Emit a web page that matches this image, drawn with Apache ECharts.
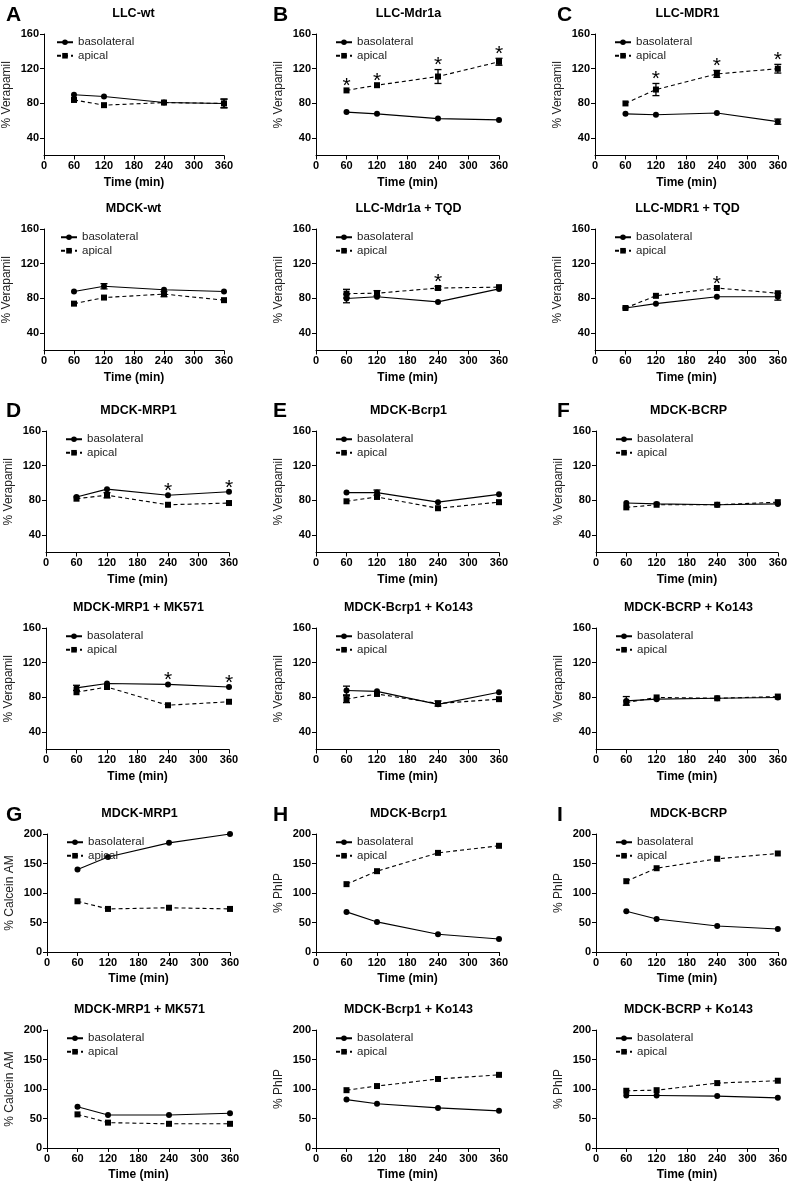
<!DOCTYPE html>
<html>
<head>
<meta charset="utf-8">
<script src="https://cdn.jsdelivr.net/npm/echarts@6/dist/echarts.min.js"></script>
<style>
html,body{margin:0;padding:0;background:#fff;}
#c{width:790px;height:1192px;}
</style>
</head>
<body>
<div id="c"></div>
<script>
// ---------- DATA ----------
const times = [60, 120, 240, 360];
const xTicks = [0, 60, 120, 180, 240, 300, 360];
const panelLetters = ['A', 'B', 'C', 'D', 'E', 'F', 'G', 'H', 'I'];
const panelTitles = [
  'LLC-wt', 'LLC-Mdr1a', 'LLC-MDR1',
  'MDCK-wt', 'LLC-Mdr1a + TQD', 'LLC-MDR1 + TQD',
  'MDCK-MRP1', 'MDCK-Bcrp1', 'MDCK-BCRP',
  'MDCK-MRP1 + MK571', 'MDCK-Bcrp1 + Ko143', 'MDCK-BCRP + Ko143',
  'MDCK-MRP1', 'MDCK-Bcrp1', 'MDCK-BCRP',
  'MDCK-MRP1 + MK571', 'MDCK-Bcrp1 + Ko143', 'MDCK-BCRP + Ko143'
];
const yTitles = [
  '% Verapamil', '% Verapamil', '% Verapamil',
  '% Verapamil', '% Verapamil', '% Verapamil',
  '% Verapamil', '% Verapamil', '% Verapamil',
  '% Verapamil', '% Verapamil', '% Verapamil',
  '% Calcein AM', '% PhIP', '% PhIP',
  '% Calcein AM', '% PhIP', '% PhIP'
];
const verapamilTicks = [40, 80, 120, 160];
const percentTicks = [0, 50, 100, 150, 200];

const basolateral = [
  [90, 88, 81, 80], [70, 68, 62.5, 61], [68, 67, 69, 59],
  [88, 94, 90, 88], [80, 82, 76, 91], [69, 74, 82, 82],
  [84, 93, 86, 90], [89, 89, 78, 87], [77, 76, 75, 76],
  [91, 96, 95, 92], [88, 87, 72, 86], [76, 78, 79, 80],
  [140, 161, 185, 200], [68, 51, 30, 22], [69, 56, 44, 39],
  [70, 56, 56, 59], [82, 75, 68, 63], [89, 89, 88, 85]
];
const basolateralErr = [
  [0, 0, 0, 5], [0, 0, 0, 0], [0, 0, 0, 3],
  [0, 3, 0, 0], [5, 0, 0, 0], [0, 0, 0, 4],
  [0, 0, 0, 0], [0, 3, 0, 0], [0, 0, 0, 0],
  [3, 0, 0, 0], [5, 0, 0, 0], [5, 0, 0, 0],
  [0, 0, 0, 0], [0, 0, 0, 0], [0, 0, 0, 0],
  [0, 0, 0, 0], [0, 0, 0, 0], [0, 0, 0, 0]
];
const apical = [
  [84, 78, 81, 80], [95, 101, 111, 128], [80, 96, 114, 120],
  [74, 81, 85, 78], [85.5, 86, 92, 93], [69, 83, 92, 86],
  [82, 86, 75, 77], [79, 84, 71, 78], [72, 75, 75, 78],
  [86, 92, 71, 75], [78, 84, 73, 78], [74, 80, 79, 81],
  [86, 73, 75, 73], [115, 137, 168, 180], [120, 142, 158, 167],
  [57, 43, 41, 41], [98, 105, 117, 124], [97, 98, 110, 114]
];
const apicalErr = [
  [0, 0, 0, 5], [0, 0, 8, 4], [0, 7, 4, 5],
  [0, 0, 3, 0], [5, 3, 2, 0], [0, 0, 0, 0],
  [0, 3, 0, 0], [0, 0, 0, 0], [0, 0, 0, 0],
  [0, 0, 0, 0], [4, 0, 3, 0], [0, 0, 0, 0],
  [0, 0, 0, 0], [0, 0, 0, 0], [0, 0, 0, 0],
  [0, 0, 0, 0], [0, 0, 0, 0], [0, 0, 0, 0]
];
// 1 = significance asterisk at that time point
const stars = [
  [0, 0, 0, 0], [1, 1, 1, 1], [0, 1, 1, 1],
  [0, 0, 0, 0], [0, 0, 1, 0], [0, 0, 1, 0],
  [0, 0, 1, 1], [0, 0, 0, 0], [0, 0, 0, 0],
  [0, 0, 1, 1], [0, 0, 0, 0], [0, 0, 0, 0],
  [0, 0, 0, 0], [0, 0, 0, 0], [0, 0, 0, 0],
  [0, 0, 0, 0], [0, 0, 0, 0], [0, 0, 0, 0]
];

// ---------- LAYOUT ----------
const colLefts = [[41, 316, 595], [41, 316, 595], [46, 316, 596], [46, 316, 596], [47, 316, 596], [47, 316, 596]];
const rowTops = [34, 229, 431, 628, 834, 1030];
const rowHeights = [121.5, 121.5, 121.5, 121.5, 118, 118];
const plotWidth = 183;
const letterPos = [[9, 12], [276, 12], [560, 12], [9, 408], [276, 408], [560, 408], [9, 812], [276, 812], [560, 812]];

const FONT = 'Liberation Sans, Arial, sans-serif';
const titles = [], grids = [], xAxes = [], yAxes = [], legends = [], series = [];

panelLetters.forEach((L, i) => {
  titles.push({
    text: L, left: letterPos[i][0] - 8, top: letterPos[i][1] - 12,
    textStyle: { fontFamily: FONT, fontSize: 21, fontWeight: 'bold', color: '#000' }
  });
});

panelTitles.forEach((t, p) => {
  const r = Math.floor(p / 3), c = p % 3;
  const left = colLefts[r][c], top = rowTops[r], h = rowHeights[r];
  const isPct = p >= 12;
  titles.push({
    text: t, left: left + plotWidth / 2 - 4, top: top - 32, textAlign: 'center',
    textStyle: { fontFamily: FONT, fontSize: 12.5, fontWeight: 'bold', color: '#000' }
  });
  grids.push({ left: left, top: top, width: plotWidth, height: h, containLabel: false });
  xAxes.push({
    type: 'value', gridIndex: p, min: 0, max: 360, interval: 60,
    name: 'Time (min)', nameLocation: 'middle', nameGap: 21,
    nameTextStyle: { fontFamily: FONT, fontSize: 12, fontWeight: 'bold', color: '#000' },
    axisLine: { onZero: false, lineStyle: { color: '#000', width: 1 } },
    axisTick: { length: 4, lineStyle: { color: '#000' } },
    axisLabel: { fontFamily: FONT, fontSize: 11, fontWeight: 'bold', color: '#000', margin: 5 },
    splitLine: { show: false }
  });
  const yTicks = isPct ? percentTicks : verapamilTicks;
  yAxes.push({
    type: 'value', gridIndex: p,
    min: isPct ? 0 : 20, max: isPct ? 200 : 160, interval: isPct ? 50 : 20,
    name: yTitles[p], nameLocation: 'middle', nameGap: 31,
    nameTextStyle: { fontFamily: FONT, fontSize: 12, color: '#222' },
    axisLine: { show: true, onZero: false, lineStyle: { color: '#000', width: 1 } },
    axisTick: { show: true, length: 4, customValues: yTicks, lineStyle: { color: '#000' } },
    axisLabel: { fontFamily: FONT, fontSize: 11, fontWeight: 'bold', color: '#000', margin: 5, customValues: yTicks },
    splitLine: { show: false }
  });
  legends.push({
    data: ['basolateral', 'apical'], orient: 'vertical',
    left: left + (p === 0 ? 10 : 14), top: top - 3.5, itemWidth: 16, itemHeight: 7, itemGap: 0,
    textStyle: { fontFamily: FONT, fontSize: 11.5, color: '#222', lineHeight: 13.5 },
    selectedMode: false
  });

  const bas = times.map((t, k) => [t, basolateral[p][k]]);
  const api = times.map((t, k) => [t, apical[p][k]]);
  series.push({
    name: 'basolateral', type: 'line', xAxisIndex: p, yAxisIndex: p, data: bas,
    symbol: 'circle', symbolSize: 6, z: 3,
    lineStyle: { color: '#000', width: 1.1, type: 'solid' }, itemStyle: { color: '#000' }
  });
  series.push({
    name: 'apical', type: 'line', xAxisIndex: p, yAxisIndex: p, data: api,
    symbol: 'rect', symbolSize: 6, z: 3,
    lineStyle: { color: '#000', width: 1.1, type: [4, 3] }, itemStyle: { color: '#000' }
  });
  const errData = [];
  times.forEach((t, k) => {
    if (basolateralErr[p][k]) errData.push([t, basolateral[p][k], basolateralErr[p][k]]);
    if (apicalErr[p][k]) errData.push([t, apical[p][k], apicalErr[p][k]]);
  });
  series.push({
    type: 'custom', xAxisIndex: p, yAxisIndex: p, data: errData, z: 4, silent: true,
    renderItem: function (params, a) {
      const x = a.value(0), y = a.value(1), e = a.value(2);
      const hi = a.coord([x, y + e]), lo = a.coord([x, y - e]);
      const w = 3.5, st = { stroke: '#000', lineWidth: 1.3 };
      return {
        type: 'group', children: [
          { type: 'line', shape: { x1: hi[0], y1: hi[1], x2: lo[0], y2: lo[1] }, style: st },
          { type: 'line', shape: { x1: hi[0] - w, y1: hi[1], x2: hi[0] + w, y2: hi[1] }, style: st },
          { type: 'line', shape: { x1: lo[0] - w, y1: lo[1], x2: lo[0] + w, y2: lo[1] }, style: st }
        ]
      };
    }
  });
  const starData = [];
  times.forEach((t, k) => {
    if (stars[p][k]) {
      const topVal = Math.max(basolateral[p][k] + basolateralErr[p][k], apical[p][k] + apicalErr[p][k]);
      starData.push([t, topVal]);
    }
  });
  series.push({
    type: 'custom', xAxisIndex: p, yAxisIndex: p, data: starData, z: 5, silent: true,
    renderItem: function (params, a) {
      const pt = a.coord([a.value(0), a.value(1)]);
      return {
        type: 'text', x: pt[0], y: pt[1] - 4,
        style: { text: '*', fontFamily: FONT, fontSize: 21, fontWeight: 'normal', fill: '#000', textAlign: 'center', textVerticalAlign: 'middle' }
      };
    }
  });
});

const chart = echarts.init(document.getElementById('c'), null, { renderer: 'canvas' });
chart.setOption({
  animation: false,
  backgroundColor: '#fff',
  title: titles, grid: grids, xAxis: xAxes, yAxis: yAxes, legend: legends, series: series
});
</script>
</body>
</html>
